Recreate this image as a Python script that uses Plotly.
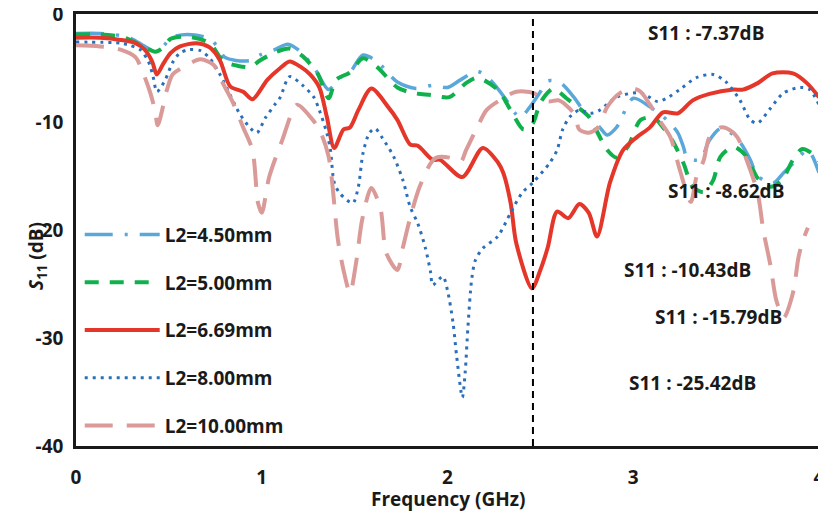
import plotly.graph_objects as go

# ---------------- data ----------------
f_450 = [0, 0.13, 0.24, 0.30, 0.37, 0.43, 0.47, 0.51, 0.60, 0.72, 0.76, 0.80, 0.86, 0.94, 0.99, 1.07,
         1.14, 1.21, 1.29, 1.36, 1.42, 1.475, 1.545, 1.62, 1.73, 1.83, 1.92, 2.00, 2.07, 2.16, 2.23,
         2.31, 2.36, 2.39, 2.44, 2.50, 2.54, 2.61, 2.68, 2.73, 2.82, 2.86, 2.91, 3.00, 3.09, 3.18,
         3.24, 3.27, 3.29, 3.36, 3.41, 3.47, 3.54, 3.58, 3.63, 3.67, 3.75, 3.81, 3.88, 3.94, 4.0]
s_450 = [-1.8, -1.8, -2.0, -2.3, -3.0, -3.5, -3.0, -2.2, -1.9, -2.3, -3.0, -4.0, -4.3, -4.3, -3.8, -3.3,
         -2.8, -3.5, -5.2, -7.0, -5.9, -5.4, -3.8, -4.4, -6.3, -6.9, -6.6, -6.8, -6.1, -5.3, -6.1,
         -7.8, -9.1, -9.6, -8.7, -7.2, -6.2, -6.4, -7.7, -8.9, -10.5, -11.2, -10.5, -7.8, -8.6, -9.8,
         -11.0, -12.3, -13.3, -13.5, -11.7, -10.6, -11.2, -12.0, -13.5, -15.0, -15.7, -14.7, -13.5, -12.6, -14.7]

f_500 = [0, 0.13, 0.24, 0.29, 0.37, 0.43, 0.47, 0.51, 0.60, 0.72, 0.775, 0.81, 0.87, 0.94, 0.99, 1.08,
         1.15, 1.22, 1.30, 1.36, 1.40, 1.475, 1.545, 1.62, 1.73, 1.81, 1.91, 2.01, 2.10, 2.16, 2.27,
         2.34, 2.41, 2.46, 2.50, 2.57, 2.64, 2.70, 2.76, 2.86, 2.91, 2.97, 3.04, 3.11, 3.16, 3.21,
         3.27, 3.32, 3.38, 3.43, 3.47, 3.54, 3.61, 3.67, 3.74, 3.80, 3.86, 3.91, 3.97, 4.0]
s_500 = [-1.9, -1.9, -2.1, -2.4, -3.1, -3.5, -3.1, -2.3, -2.1, -2.7, -4.0, -4.5, -4.8, -4.9, -4.3, -3.5,
         -3.2, -3.9, -5.5, -7.8, -6.1, -5.4, -4.1, -4.9, -6.8, -7.3, -7.5, -7.7, -6.4, -5.9, -7.0,
         -8.9, -10.7, -10.1, -8.2, -6.9, -7.8, -8.6, -9.5, -12.6, -13.3, -12.3, -9.8, -9.6, -10.5, -11.7,
         -13.8, -16.0, -16.5, -15.4, -13.2, -12.3, -13.2, -15.2, -16.0, -15.4, -13.5, -12.5, -13.0, -13.6]

f_669 = [0, 0.13, 0.24, 0.32, 0.37, 0.41, 0.435, 0.47, 0.51, 0.56, 0.65, 0.72, 0.775, 0.83, 0.90, 0.95,
         1.03, 1.10, 1.15, 1.21, 1.26, 1.31, 1.35, 1.39, 1.44, 1.475, 1.52, 1.59, 1.68, 1.73, 1.80,
         1.84, 1.92, 1.96, 2.08, 2.19, 2.27, 2.30, 2.34, 2.37, 2.455, 2.50, 2.54, 2.59, 2.65, 2.71,
         2.76, 2.805, 2.875, 2.945, 3.02, 3.09, 3.16, 3.24, 3.32, 3.41, 3.54, 3.59, 3.67, 3.75, 3.86,
         3.935, 4.0]
s_669 = [-2.2, -2.2, -2.4, -2.7, -3.3, -4.4, -5.6, -4.6, -3.6, -3.0, -2.7, -3.1, -4.3, -6.7, -7.2, -7.9,
         -6.1, -5.0, -4.4, -4.9, -5.6, -6.8, -9.5, -12.4, -10.7, -10.5, -8.9, -6.9, -8.6, -9.8, -12.1,
         -12.2, -13.5, -13.5, -15.1, -12.4, -13.7, -14.7, -17.5, -21.2, -25.4, -23.7, -21.6, -18.3, -18.9, -17.6,
         -18.4, -20.6, -15.6, -12.6, -11.4, -10.5, -9.1, -9.2, -8.0, -7.4, -7.0, -7.0, -6.4, -5.5, -5.5,
         -6.4, -7.7]

f_800 = [0, 0.24, 0.29, 0.345, 0.39, 0.415, 0.436, 0.48, 0.52, 0.56, 0.61, 0.67, 0.72, 0.775, 0.83, 0.88,
         0.94, 0.974, 1.02, 1.07, 1.10, 1.15, 1.22, 1.28, 1.31, 1.35, 1.37, 1.39, 1.42, 1.49, 1.52,
         1.545, 1.58, 1.61, 1.65, 1.71, 1.76, 1.80, 1.84, 1.88, 1.91, 1.92, 1.975, 2.00, 2.03, 2.05,
         2.08, 2.095, 2.11, 2.13, 2.15, 2.19, 2.27, 2.34, 2.40, 2.46, 2.55, 2.59, 2.62, 2.66, 2.71,
         2.77, 2.82, 2.91, 3.04, 3.13, 3.18, 3.25, 3.34, 3.43, 3.50, 3.575, 3.63, 3.67, 3.74, 3.81,
         3.90, 3.95, 4.0]
s_800 = [-2.6, -2.7, -2.9, -3.3, -4.4, -5.8, -7.2, -6.1, -4.5, -3.6, -3.3, -3.4, -4.1, -5.6, -7.5, -9.2,
         -10.6, -11.0, -9.6, -8.4, -7.7, -5.8, -6.6, -7.7, -8.9, -11.0, -12.6, -15.6, -16.6, -17.5, -16.0,
         -12.9, -11.0, -10.6, -11.5, -13.2, -15.4, -17.9, -19.4, -21.6, -24.0, -25.1, -24.3, -25.6, -28.6, -31.8,
         -35.5, -33.2, -29.0, -24.6, -22.8, -21.7, -20.6, -18.4, -16.6, -15.6, -13.8, -12.6, -10.7, -9.5, -8.9,
         -9.2, -8.9, -7.7, -7.3, -8.1, -7.8, -7.0, -5.9, -5.6, -6.3, -8.0, -9.8, -10.1, -8.7, -7.3,
         -6.8, -7.0, -8.4]

f_1000 = [0, 0.13, 0.24, 0.32, 0.36, 0.40, 0.425, 0.44, 0.49, 0.52, 0.58, 0.67, 0.74, 0.79, 0.845, 0.90,
          0.95, 0.98, 1.00, 1.04, 1.11, 1.19, 1.26, 1.31, 1.36, 1.41, 1.44, 1.475, 1.51, 1.54, 1.59,
          1.64, 1.67, 1.73, 1.76, 1.80, 1.85, 1.91, 1.94, 2.01, 2.07, 2.10, 2.16, 2.21, 2.28, 2.37,
          2.46, 2.54, 2.60, 2.68, 2.71, 2.76, 2.81, 2.86, 2.93, 3.00, 3.04, 3.09, 3.14, 3.20, 3.25,
          3.31, 3.34, 3.38, 3.41, 3.47, 3.505, 3.56, 3.61, 3.67, 3.70, 3.74, 3.77, 3.81, 3.86, 3.89,
          3.915, 3.94]
s_1000 = [-2.9, -3.0, -3.3, -4.0, -5.4, -7.3, -8.9, -10.3, -7.0, -5.6, -4.9, -4.2, -4.7, -6.4, -8.2, -10.5,
          -12.6, -17.5, -18.4, -15.1, -11.7, -8.4, -9.5, -10.7, -13.2, -20.9, -23.7, -25.8, -22.8, -19.1, -16.1,
          -18.1, -22.1, -23.7, -21.6, -18.8, -16.0, -13.8, -13.3, -13.3, -13.7, -12.6, -10.5, -8.9, -8.0, -7.2,
          -7.3, -8.1, -8.0, -9.2, -10.7, -11.0, -10.5, -8.6, -7.3, -6.9, -7.2, -8.4, -9.8, -11.4, -14.4,
          -17.4, -15.1, -13.5, -11.4, -10.5, -10.6, -11.4, -13.5, -16.6, -20.0, -23.4, -26.5, -28.1, -25.8, -22.5,
          -20.9, -19.8]

series_names = ["L2=4.50mm", "L2=5.00mm", "L2=6.69mm", "L2=8.00mm", "L2=10.00mm"]
marker_freq = 2.46
y_ticks = [0, -10, -20, -30, -40]
y_tick_text = ["0", "-10", "-20", "-30", "-40"]
x_ticks = [0, 1, 2, 3, 4]
notes = ["S11 : -7.37dB", "S11 : -8.62dB", "S11 : -10.43dB", "S11 : -15.79dB", "S11 : -25.42dB"]
note_x = [3.39, 3.50, 3.29, 3.46, 3.32]
note_y = [-1.8, -16.4, -23.7, -28.1, -34.2]

# ---------------- styling ----------------
FONT = "Open Sans"
FS = 19
TXT = "#1a1a1a"
styles = [
    dict(color="#5AA7DA", width=3.5, dash="28px,12px,3px,12px"),
    dict(color="#10B04C", width=4, dash="14px,11px"),
    dict(color="#E5362A", width=4, dash="solid"),
    dict(color="#2B6FBA", width=3, dash="3px,5px"),
    dict(color="#DA9A98", width=4, dash="28px,14px"),
]
xs = [f_450, f_500, f_669, f_800, f_1000]
ys = [s_450, s_500, s_669, s_800, s_1000]

def bold_font(size=FS):
    return dict(family=FONT, size=size, color=TXT, weight=700)

fig = go.Figure()
for i, (x, y, name, st) in enumerate(zip(xs, ys, series_names, styles)):
    fig.add_trace(go.Scatter(
        x=x, y=y, mode="lines", name=name, legendgroup=str(i),
        line=dict(color=st["color"], width=st["width"], dash=st["dash"],
                  shape="spline", smoothing=0.8),
    ))

fig.add_vline(x=marker_freq, line=dict(color="black", width=2, dash="7px,5px"))

for t, xx, yy in zip(notes, note_x, note_y):
    fig.add_annotation(x=xx, y=yy, xref="x", yref="y", text=t, showarrow=False,
                       xanchor="center", yanchor="middle", font=bold_font())

fig.add_annotation(x=-0.0525, y=0.44, xref="paper", yref="paper", textangle=-90,
                   xanchor="center", yanchor="middle",
                   text="<i>S</i><sub>11</sub> (dB)", showarrow=False, font=bold_font())
fig.add_annotation(x=0.5, y=-0.123, xref="paper", yref="paper",
                   xanchor="center", yanchor="middle",
                   text="Frequency (GHz)", showarrow=False, font=bold_font())

# the page body adds an 8px margin; size the figure so it fits the 826x518 window
fig.update_layout(
    width=818, height=510,
    margin=dict(l=68, r=7, t=6, b=72),
    paper_bgcolor="white", plot_bgcolor="white",
    font=bold_font(),
    showlegend=True,
    legend=dict(x=0.005, y=0.533, xanchor="left", yanchor="top",
                bgcolor="rgba(0,0,0,0)", tracegroupgap=20, itemwidth=75,
                font=bold_font()),
)
fig.update_xaxes(range=[0, 4], tickvals=x_ticks, showgrid=False, zeroline=False,
                 showline=True, linecolor=TXT, linewidth=2.5, mirror=True,
                 ticks="", ticklabelstandoff=12, automargin=False,
                 ticklabeloverflow="allow", tickfont=bold_font())
fig.update_yaxes(range=[-40, 0], tickvals=y_ticks, ticktext=y_tick_text,
                 showgrid=False, zeroline=False,
                 showline=True, linecolor=TXT, linewidth=2.5, mirror=True,
                 ticks="", ticklabelstandoff=6, automargin=False,
                 ticklabeloverflow="allow", tickfont=bold_font())

fig.write_html("out.html")
